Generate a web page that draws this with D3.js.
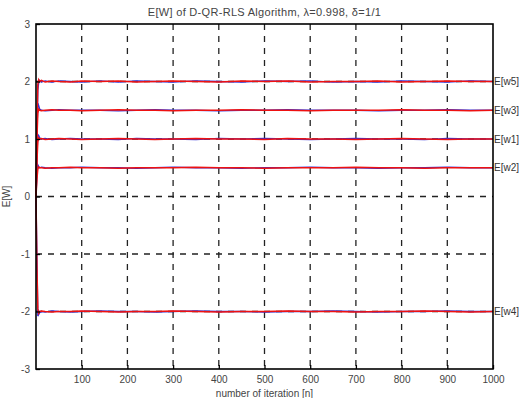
<!DOCTYPE html>
<html>
<head>
<meta charset="utf-8">
<script src="https://cdn.jsdelivr.net/npm/d3@7"></script>
<style>
  body { margin: 0; background: #fff; }
  text { font-family: "Liberation Sans", Arial, sans-serif; }
  .grid_line { stroke: #222; stroke-width: 1.3; stroke-dasharray: 6,6; }
</style>
</head>
<body>
<script>
// iteration index of the sampled points
var iters = [0, 2, 4, 6, 8, 12, 20, 35, 50, 75, 100, 140, 180, 220, 260, 300, 350, 400, 450, 500, 550, 600, 650, 700, 750, 800, 850, 900, 950, 1000];

// weight labels (right side)
var weightNames = ["E[w5]", "E[w3]", "E[w1]", "E[w2]", "E[w4]"];
var weightTargets = [2, 1.5, 1, 0.5, -2];

// red realisation
var redW5 = [0, 1.2, 1.95, 2.03, 2.0, 2.02, 1.99, 2.01, 2.0, 1.99, 2.01, 2.0, 2.01, 1.99, 2.0, 2.01, 2.0, 1.99, 2.01, 2.0, 2.01, 1.99, 2.0, 2.0, 2.01, 1.99, 2.0, 2.01, 2.0, 2.0];
var redW3 = [0, 1.0, 1.45, 1.52, 1.5, 1.49, 1.5, 1.51, 1.5, 1.5, 1.49, 1.5, 1.51, 1.5, 1.5, 1.49, 1.5, 1.5, 1.51, 1.5, 1.5, 1.49, 1.5, 1.5, 1.5, 1.51, 1.5, 1.5, 1.49, 1.5];
var redW1 = [0, 0.6, 0.95, 1.02, 1.0, 1.01, 0.99, 1.0, 1.01, 1.0, 0.99, 1.0, 1.01, 1.0, 0.99, 1.0, 1.01, 1.0, 1.0, 0.99, 1.01, 1.0, 1.0, 0.99, 1.0, 1.01, 1.0, 0.99, 1.0, 1.0];
var redW2 = [0, 0.3, 0.48, 0.51, 0.5, 0.5, 0.49, 0.5, 0.5, 0.51, 0.5, 0.5, 0.49, 0.5, 0.5, 0.5, 0.51, 0.5, 0.5, 0.49, 0.5, 0.5, 0.5, 0.51, 0.5, 0.5, 0.49, 0.5, 0.5, 0.5];
var redW4 = [0, -1.2, -1.95, -2.03, -2.0, -1.99, -2.0, -2.01, -2.0, -2.0, -1.99, -2.0, -2.01, -2.0, -2.0, -1.99, -2.0, -2.01, -2.0, -2.0, -1.99, -2.0, -2.0, -2.01, -2.0, -2.0, -1.99, -2.0, -2.01, -2.0];

// blue realisation
var blueW5 = [0, 0.9, 1.85, 1.98, 2.02, 1.99, 2.01, 1.99, 2.01, 2.0, 1.99, 2.01, 1.99, 2.01, 2.0, 1.99, 2.01, 2.0, 1.99, 2.01, 2.0, 2.01, 1.99, 2.0, 1.99, 2.01, 2.0, 1.99, 2.01, 2.0];
var blueW3 = [0, 1.1, 1.62, 1.58, 1.52, 1.5, 1.49, 1.5, 1.51, 1.5, 1.5, 1.5, 1.49, 1.5, 1.51, 1.5, 1.5, 1.49, 1.5, 1.5, 1.51, 1.5, 1.5, 1.5, 1.49, 1.5, 1.5, 1.51, 1.5, 1.5];
var blueW1 = [0, 0.7, 1.08, 1.06, 1.02, 1.0, 1.01, 0.99, 1.0, 1.01, 1.0, 1.0, 0.99, 1.01, 1.0, 1.0, 0.99, 1.01, 1.0, 1.01, 1.0, 0.99, 1.0, 1.01, 1.0, 1.0, 0.99, 1.01, 1.0, 1.0];
var blueW2 = [0, 0.35, 0.55, 0.52, 0.5, 0.51, 0.5, 0.49, 0.5, 0.5, 0.51, 0.5, 0.5, 0.49, 0.5, 0.51, 0.5, 0.5, 0.49, 0.5, 0.5, 0.51, 0.5, 0.5, 0.49, 0.5, 0.5, 0.51, 0.5, 0.5];
var blueW4 = [0, -1.0, -2.08, -2.05, -2.02, -2.0, -2.01, -1.99, -2.0, -2.01, -2.0, -1.99, -2.0, -2.0, -2.01, -2.0, -1.99, -2.0, -2.0, -2.01, -2.0, -2.0, -1.99, -2.0, -2.01, -2.0, -2.0, -1.99, -2.0, -2.0];

var redSeries = [redW5, redW3, redW1, redW2, redW4];
var blueSeries = [blueW5, blueW3, blueW1, blueW2, blueW4];

var xTicks = [100, 200, 300, 400, 500, 600, 700, 800, 900, 1000];
var yTicks = [-3, -2, -1, 0, 1, 2, 3];

var margin = {top: 24, right: 39, bottom: 29, left: 36};
var width = 532 - margin.left - margin.right,
    height = 398 - margin.top - margin.bottom;

var x = d3.scaleLinear().domain([0, 1000]).range([0, width]);
var y = d3.scaleLinear().domain([-3, 3]).range([height, 0]);

var svg = d3.select("body").append("svg")
    .attr("width", 532).attr("height", 398)
    .append("g")
    .attr("transform", "translate(" + margin.left + "," + margin.top + ")");

// dashed grid
svg.append("g").selectAll("line")
    .data(xTicks.slice(0, -1))
    .enter().append("line").attr("class", "grid_line")
    .attr("x1", function(d) { return x(d); })
    .attr("x2", function(d) { return x(d); })
    .attr("y1", 0).attr("y2", height);

svg.append("g").selectAll("line")
    .data(yTicks.slice(1, -1))
    .enter().append("line").attr("class", "grid_line")
    .attr("x1", 0).attr("x2", width)
    .attr("y1", function(d) { return y(d); })
    .attr("y2", function(d) { return y(d); });

// weight traces
var line = d3.line()
    .x(function(d, i) { return x(iters[i]); })
    .y(function(d) { return y(d); });

svg.append("g").selectAll("path")
    .data(blueSeries)
    .enter().append("path")
    .attr("d", line)
    .attr("fill", "none")
    .attr("stroke", "#3030d8")
    .attr("stroke-width", 1.3);

svg.append("g").selectAll("path")
    .data(redSeries)
    .enter().append("path")
    .attr("d", line)
    .attr("fill", "none")
    .attr("stroke", "#ee1111")
    .attr("stroke-width", 1.5);

// axes (plain hyphen for negatives)
var fmt = function(d) { return String(d); };
var xAxis = d3.axisBottom(x).tickValues(xTicks).tickFormat(fmt).tickSize(-4).tickPadding(7);
var yAxis = d3.axisLeft(y).tickValues(yTicks).tickFormat(fmt).tickSize(-4).tickPadding(6);

svg.append("g").attr("transform", "translate(0," + height + ")").call(xAxis)
    .call(function(g) { g.select(".domain").remove(); });
svg.append("g").call(yAxis)
    .call(function(g) { g.select(".domain").remove(); });

svg.selectAll(".tick text").attr("font-size", 10).attr("fill", "#444")
    .style("font-family", "Liberation Sans, Arial, sans-serif");
svg.selectAll(".tick line").attr("stroke", "#000").attr("stroke-width", 1.3);

// frame
svg.append("rect")
    .attr("width", width).attr("height", height)
    .attr("fill", "none").attr("stroke", "#000").attr("stroke-width", 1.6);

// right-side weight labels
svg.append("g").selectAll("text")
    .data(weightTargets)
    .enter().append("text")
    .attr("x", width + 1)
    .attr("y", function(d) { return y(d); })
    .attr("dy", "0.35em")
    .attr("font-size", 10)
    .attr("fill", "#333")
    .text(function(d, i) { return weightNames[i]; });

// title and axis labels
svg.append("text")
    .attr("x", width / 2).attr("y", -8)
    .attr("text-anchor", "middle")
    .attr("font-size", 11).attr("fill", "#444")
    .style("letter-spacing", "0.3px")
    .text("E[W] of D-QR-RLS Algorithm, λ=0.998, δ=1/1");

svg.append("text")
    .attr("x", width / 2).attr("y", height + 28)
    .attr("text-anchor", "middle")
    .attr("font-size", 10).attr("fill", "#444")
    .text("number of iteration [n]");

svg.append("text")
    .attr("transform", "rotate(-90)")
    .attr("x", -height / 2).attr("y", -26)
    .attr("text-anchor", "middle")
    .attr("font-size", 10).attr("fill", "#444")
    .text("E[W]");
</script>
</body>
</html>
